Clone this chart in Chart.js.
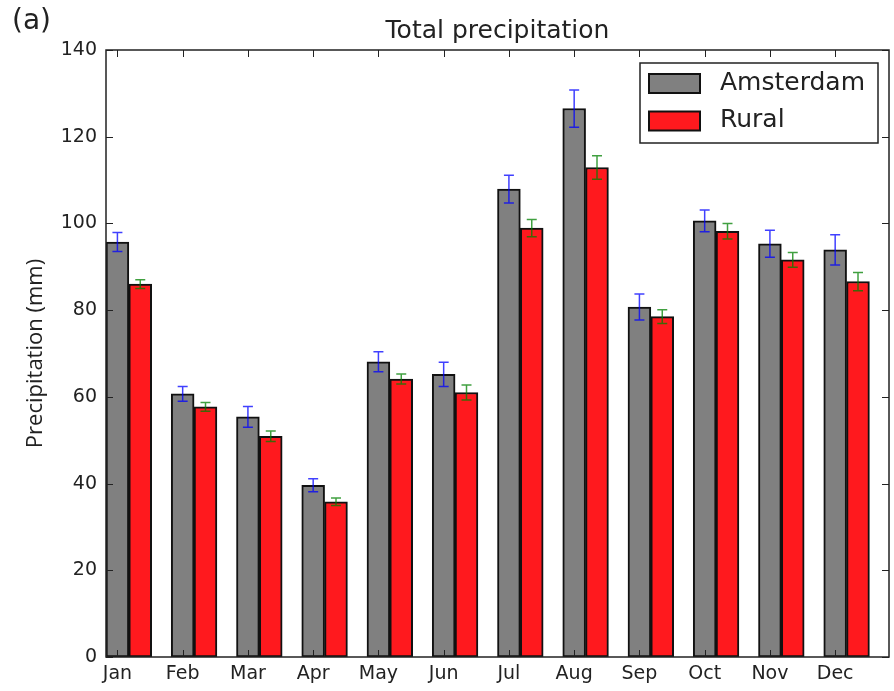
<!DOCTYPE html>
<html>
<head>
<meta charset="utf-8">
<script src="https://cdn.jsdelivr.net/npm/chart.js@4.4.1/dist/chart.umd.min.js"></script>
<style>
  html, body { margin: 0; padding: 0; background: #fff; }
</style>
</head>
<body>
<canvas id="c" width="894" height="691"></canvas>
<script>
// values (mm)
const months = ['Jan', 'Feb', 'Mar', 'Apr', 'May', 'Jun', 'Jul', 'Aug', 'Sep', 'Oct', 'Nov', 'Dec'];
const amsterdam = [95.7, 60.7, 55.4, 39.6, 68.1, 65.2, 107.9, 126.5, 80.7, 100.6, 95.3, 93.9];
const amsterdamErr = [2.2, 1.7, 2.4, 1.5, 2.3, 2.8, 3.2, 4.3, 3.0, 2.5, 3.1, 3.5];
const rural = [86.0, 57.7, 50.9, 35.8, 64.1, 61.0, 98.9, 112.9, 78.5, 98.2, 91.6, 86.6];
const ruralErr = [1.0, 1.0, 1.2, 0.85, 1.15, 1.75, 2.0, 2.7, 1.6, 1.8, 1.7, 2.1];
const yTicks = [0, 20, 40, 60, 80, 100, 120, 140];

const BAR_W = 0.35; // bar width in month units, as in the matplotlib original
const INK = '#222';

// error bars with caps, colour per dataset
const errorBars = {
  id: 'errorBars',
  afterDatasetsDraw(chart) {
    const ctx = chart.ctx;
    const y = chart.scales.y;
    chart.data.datasets.forEach((ds, di) => {
      const meta = chart.getDatasetMeta(di);
      ctx.save();
      ctx.strokeStyle = ds.errorColor;
      ctx.lineWidth = 1.5;
      meta.data.forEach((bar, i) => {
        const v = ds.data[i].y;
        const e = ds.errors[i];
        const y1 = y.getPixelForValue(v + e);
        const y2 = y.getPixelForValue(v - e);
        ctx.beginPath();
        ctx.moveTo(bar.x, y1); ctx.lineTo(bar.x, y2);
        ctx.moveTo(bar.x - 5, y1); ctx.lineTo(bar.x + 5, y1);
        ctx.moveTo(bar.x - 5, y2); ctx.lineTo(bar.x + 5, y2);
        ctx.stroke();
      });
      ctx.restore();
    });
  }
};

// box round the plot with inward ticks on all four sides
const frame = {
  id: 'frame',
  afterDatasetsDraw(chart) {
    const ctx = chart.ctx;
    const { left, right, top, bottom } = chart.chartArea;
    const x = chart.scales.x, y = chart.scales.y;
    ctx.save();
    ctx.strokeStyle = INK;
    ctx.lineWidth = 1;
    ctx.beginPath();
    x.ticks.forEach(t => {
      const px = Math.round(x.getPixelForValue(t.value)) + 0.5;
      ctx.moveTo(px, bottom); ctx.lineTo(px, bottom - 7);
      ctx.moveTo(px, top); ctx.lineTo(px, top + 7);
    });
    y.ticks.forEach(t => {
      const py = Math.round(y.getPixelForValue(t.value)) + 0.5;
      ctx.moveTo(left, py); ctx.lineTo(left + 7, py);
      ctx.moveTo(right, py); ctx.lineTo(right - 7, py);
    });
    ctx.stroke();
    ctx.lineWidth = 1.5;
    ctx.strokeRect(left, top, right - left, bottom - top);
    ctx.restore();
  }
};

// legend box in the upper right corner of the plot
const legendBox = {
  id: 'legendBox',
  afterDraw(chart) {
    const ctx = chart.ctx;
    const bx = 640, by = 63, bw = 238, bh = 80;
    ctx.save();
    ctx.fillStyle = '#fff';
    ctx.fillRect(bx, by, bw, bh);
    ctx.strokeStyle = INK;
    ctx.lineWidth = 1.5;
    ctx.strokeRect(bx, by, bw, bh);
    ctx.font = '25px "DejaVu Sans"';
    ctx.textBaseline = 'middle';
    chart.data.datasets.forEach((ds, i) => {
      const cy = by + 20 + i * 37.5;
      ctx.fillStyle = ds.backgroundColor;
      ctx.fillRect(649, cy - 9, 51, 19);
      ctx.lineWidth = 2;
      ctx.strokeStyle = '#111';
      ctx.strokeRect(649, cy - 9, 51, 19);
      ctx.fillStyle = INK;
      ctx.fillText(ds.label, 720, cy);
    });
    ctx.restore();
  }
};

const titles = {
  id: 'titles',
  afterDraw(chart) {
    const ctx = chart.ctx;
    const { left, right } = chart.chartArea;
    ctx.save();
    ctx.fillStyle = INK;
    ctx.textBaseline = 'middle';
    ctx.textAlign = 'center';
    ctx.font = '25px "DejaVu Sans"';
    ctx.fillText('Total precipitation', (left + right) / 2, 31);
    ctx.textAlign = 'left';
    ctx.font = '28px "DejaVu Sans"';
    ctx.fillText('(a)', 12, 22);
    ctx.restore();
  }
};

const barStyle = {
  borderColor: '#111',
  borderWidth: 2,
  borderSkipped: false,
  grouped: false,
  barPercentage: 1,
  categoryPercentage: 1
};

new Chart(document.getElementById('c'), {
  type: 'bar',
  data: {
    datasets: [
      Object.assign({
        label: 'Amsterdam',
        data: amsterdam.map((v, i) => ({ x: i + BAR_W / 2, y: v })),
        errors: amsterdamErr,
        errorColor: 'rgba(0,0,255,0.75)',
        backgroundColor: 'rgb(128,128,128)'
      }, barStyle),
      Object.assign({
        label: 'Rural',
        data: rural.map((v, i) => ({ x: i + BAR_W * 1.5, y: v })),
        errors: ruralErr,
        errorColor: 'rgba(0,128,0,0.75)',
        backgroundColor: 'rgb(255,25,30)'
      }, barStyle)
    ]
  },
  options: {
    responsive: false,
    animation: false,
    layout: { padding: { top: 50, right: 5, left: 0, bottom: 0 } },
    plugins: { legend: { display: false }, tooltip: { enabled: false } },
    scales: {
      x: {
        type: 'linear',
        min: 0,
        max: 12,
        offset: false,
        grid: { display: false, drawTicks: false },
        border: { display: false },
        afterBuildTicks: s => { s.ticks = months.map((m, i) => ({ value: i + BAR_W / 2 })); },
        afterFit: s => { s.height = 34; },
        ticks: {
          autoSkip: false,
          maxRotation: 0,
          padding: 6,
          color: INK,
          font: { family: 'DejaVu Sans', size: 19 },
          callback: (v, i) => months[i]
        }
      },
      y: {
        min: 0,
        max: 140,
        grid: { display: false, drawTicks: false },
        border: { display: false },
        afterBuildTicks: s => { s.ticks = yTicks.map(v => ({ value: v })); },
        afterFit: s => { s.width = 106; },
        ticks: {
          padding: 9,
          color: INK,
          font: { family: 'DejaVu Sans', size: 19 }
        },
        title: {
          display: true,
          text: 'Precipitation (mm)',
          color: INK,
          font: { family: 'Open Sans', size: 22 },
          padding: { top: 23, bottom: 0 }
        }
      }
    }
  },
  plugins: [errorBars, frame, legendBox, titles]
});
</script>
</body>
</html>
